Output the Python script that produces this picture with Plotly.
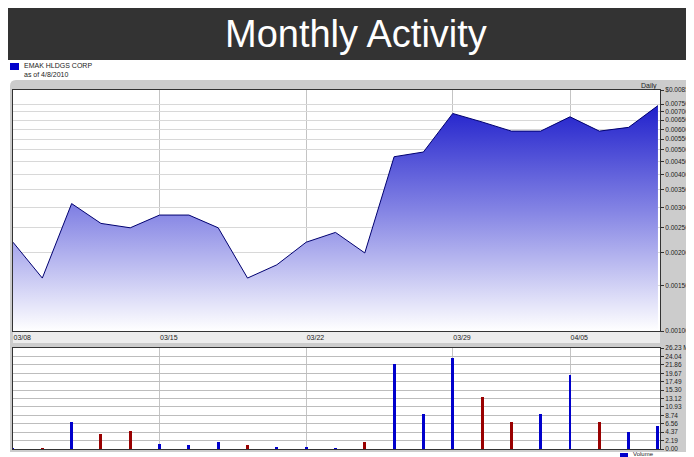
import math
import plotly.graph_objects as go

# ---------------- data ----------------
dates = ["03/08", "03/09", "03/10", "03/11", "03/12", "03/15", "03/16", "03/17", "03/18", "03/19",
         "03/22", "03/23", "03/24", "03/25", "03/26", "03/29", "03/30", "03/31", "04/01",
         "04/05", "04/06", "04/07", "04/08"]
price = [0.0022, 0.0016, 0.0031, 0.0026, 0.0025, 0.0028, 0.0028, 0.0025, 0.0016, 0.0018,
         0.0022, 0.0024, 0.0020, 0.0047, 0.0049, 0.0069, 0.0064, 0.0059, 0.0059,
         0.0067, 0.0059, 0.0061, 0.0074]
volume = [0.15, 0.2, 6.9, 4.0, 4.6, 1.2, 1.05, 1.7, 1.1, 0.3,
          0.5, 0.2, 1.9, 22.1, 9.0, 23.6, 13.4, 6.9, 9.0,
          19.2, 6.9, 4.3, 5.9]
vol_dir = ["up", "down", "up", "down", "down", "up", "up", "up", "down", "up",
           "up", "up", "down", "up", "up", "up", "down", "down", "up",
           "up", "down", "up", "up"]
date_ticks = ["03/08", "03/15", "03/22", "03/29", "04/05"]
price_tickvals = [0.0010, 0.0015, 0.0020, 0.0025, 0.0030, 0.0035, 0.0040, 0.0045, 0.0050,
                  0.0055, 0.0060, 0.0065, 0.0070, 0.0075, 0.0085]
price_ticktext = ["0.00100", "0.00150", "0.00200", "0.00250", "0.00300", "0.00350", "0.00400",
                  "0.00450", "0.00500", "0.00550", "0.00600", "0.00650", "0.00700", "0.00750",
                  "$0.00850"]
vol_ticktext = ["0.00", "2.19", "4.37", "6.56", "8.74", "10.93", "13.12", "15.30", "17.49",
                "19.67", "21.86", "24.04", "26.23 M"]
vol_tickvals = [float(t.split()[0]) for t in vol_ticktext]
price_min, price_max = 0.0010, 0.0085
title = "Monthly Activity"
company = "EMAK HLDGS CORP"
asof = "as of 4/8/2010"

# ---------------- layout helpers (positions given in page pixels) ----------------
OFF = 8                      # page body margin
W, H = 694, 457
PL, PR, PT, PB = 13, 660, 90, 449          # plot area in page pixels
ML, MT = PL - OFF, PT - OFF
MR, MB = W - (PR - OFF), H - (PB - OFF)
PW, PH = W - ML - MR, H - MT - MB


def px(p):
    return (p - OFF - ML) / PW


def py(p):
    return (H - MB - (p - OFF)) / PH


PRICE_BOTTOM = 331
VOL_TOP = 348
BLUE = "#0000cc"
RED = "#990000"
FONT = "Liberation Sans, Arial, sans-serif"
TXT = "#222222"

fig = go.Figure()

# baseline for the area fill
fig.add_trace(go.Scatter(x=dates, y=[price_min] * len(dates), mode="lines",
                         line=dict(width=0, color="rgba(0,0,0,0)"), hoverinfo="skip",
                         showlegend=False, xaxis="x", yaxis="y"))
fig.add_trace(go.Scatter(x=dates, y=price, mode="lines", fill="tonexty",
                         line=dict(color="#000070", width=1),
                         fillgradient=dict(type="vertical",
                                           colorscale=[[0, "#ffffff"], [0.5, "#8484e4"], [1, "#1212c8"]],
                                           start=price_min, stop=price_max),
                         showlegend=False, xaxis="x", yaxis="y"))
fig.add_trace(go.Bar(x=dates, y=volume, width=0.1,
                     marker=dict(color=[BLUE if d == "up" else RED for d in vol_dir], line=dict(width=0)),
                     showlegend=False, xaxis="x2", yaxis="y2"))

grid = "#c4c4c4"
axis_common = dict(showline=True, linecolor="#333333", linewidth=1, mirror=True, zeroline=False)

shapes = [
    # title bar
    dict(type="rect", xref="paper", yref="paper", x0=px(0), x1=px(710), y0=py(7), y1=py(60),
         fillcolor="#333333", line=dict(width=0), layer="below"),
    # gray panel with rounded top-left corner
    dict(type="path", xref="paper", yref="paper", layer="below", fillcolor="#cccccc", line=dict(width=0),
         path=(f"M {px(10)},{py(86)} Q {px(10)},{py(80)} {px(16)},{py(80)} "
               f"L {px(710)},{py(80)} L {px(710)},{py(452)} L {px(10)},{py(452)} Z")),
    # white price area
    dict(type="rect", xref="paper", yref="paper", x0=0, x1=1, y0=py(PRICE_BOTTOM), y1=1,
         fillcolor="#ffffff", line=dict(width=0), layer="below"),
    # date band
    dict(type="rect", xref="paper", yref="paper", x0=0, x1=1, y0=py(343), y1=py(PRICE_BOTTOM),
         fillcolor="#ececec", line=dict(width=0), layer="below"),
    # white volume area
    dict(type="rect", xref="paper", yref="paper", x0=0, x1=1, y0=0, y1=py(VOL_TOP),
         fillcolor="#ffffff", line=dict(width=0), layer="below"),
    # legend square top-left
    dict(type="rect", xref="paper", yref="paper", x0=px(10), x1=px(19), y0=py(70), y1=py(63),
         fillcolor="#0000cc", line=dict(width=0)),
    # volume legend square (bottom right)
    dict(type="rect", xref="paper", yref="paper", x0=px(620), x1=px(628), y0=py(457), y1=py(453),
         fillcolor="#0000cc", line=dict(width=0)),
]

annotations = [
    dict(text=title, xref="paper", yref="paper", x=px(356), y=py(34), showarrow=False,
         font=dict(family="Liberation Sans Narrow, Arial Narrow, Liberation Sans, sans-serif",
                   size=38, color="#ffffff"), xanchor="center", yanchor="middle"),
    dict(text=company, xref="paper", yref="paper", x=px(22), y=py(66), showarrow=False,
         font=dict(family=FONT, size=7, color=TXT), xanchor="left", yanchor="middle"),
    dict(text=asof, xref="paper", yref="paper", x=px(22), y=py(74), showarrow=False,
         font=dict(family=FONT, size=7, color=TXT), xanchor="left", yanchor="middle"),
    dict(text="Daily", xref="paper", yref="paper", x=px(659), y=py(86), showarrow=False,
         font=dict(family=FONT, size=7, color=TXT), xanchor="right", yanchor="middle"),
    dict(text="Volume", xref="paper", yref="paper", x=px(631), y=py(454), showarrow=False,
         font=dict(family=FONT, size=6, color=TXT), xanchor="left", yanchor="middle"),
]

fig.update_layout(
    width=W, height=H,
    margin=dict(l=ML, r=MR, t=MT, b=MB, pad=0),
    paper_bgcolor="#ffffff", plot_bgcolor="rgba(0,0,0,0)",
    font=dict(family=FONT, size=7, color=TXT),
    shapes=shapes, annotations=annotations,
    bargap=0,
    xaxis=dict(type="category", categoryorder="array", categoryarray=dates,
               domain=[0, 1], anchor="y", range=[0, len(dates) - 1 + 0.07],
               tickmode="array", tickvals=date_ticks, ticktext=date_ticks,
               showgrid=True, gridcolor=grid, gridwidth=1, ticks="", ticklen=0,
               ticklabelposition="outside right", tickfont=dict(size=7, color=TXT),
               **axis_common),
    yaxis=dict(type="log", domain=[py(PRICE_BOTTOM), 1], anchor="x", side="right",
               range=[math.log10(price_min), math.log10(price_max)],
               tickmode="array", tickvals=price_tickvals, ticktext=price_ticktext,
               showgrid=True, gridcolor="#d8d8d8", gridwidth=1,
               ticks="outside", ticklen=3, tickcolor="#333333",
               tickfont=dict(size=6.5, color=TXT), **axis_common),
    xaxis2=dict(type="category", categoryorder="array", categoryarray=dates,
                domain=[0, 1], anchor="y2", matches="x",
                tickmode="array", tickvals=date_ticks, showticklabels=False,
                showgrid=True, gridcolor=grid, gridwidth=1, ticks="",
                **axis_common),
    yaxis2=dict(domain=[0, py(VOL_TOP)], anchor="x2", side="right", range=[0, vol_tickvals[-1]],
                tickmode="array", tickvals=vol_tickvals, ticktext=vol_ticktext,
                showgrid=True, gridcolor="#bdbdbd", gridwidth=1,
                ticks="outside", ticklen=3, tickcolor="#333333",
                tickfont=dict(size=6.5, color=TXT), **axis_common),
)

fig.write_html("out.html")
